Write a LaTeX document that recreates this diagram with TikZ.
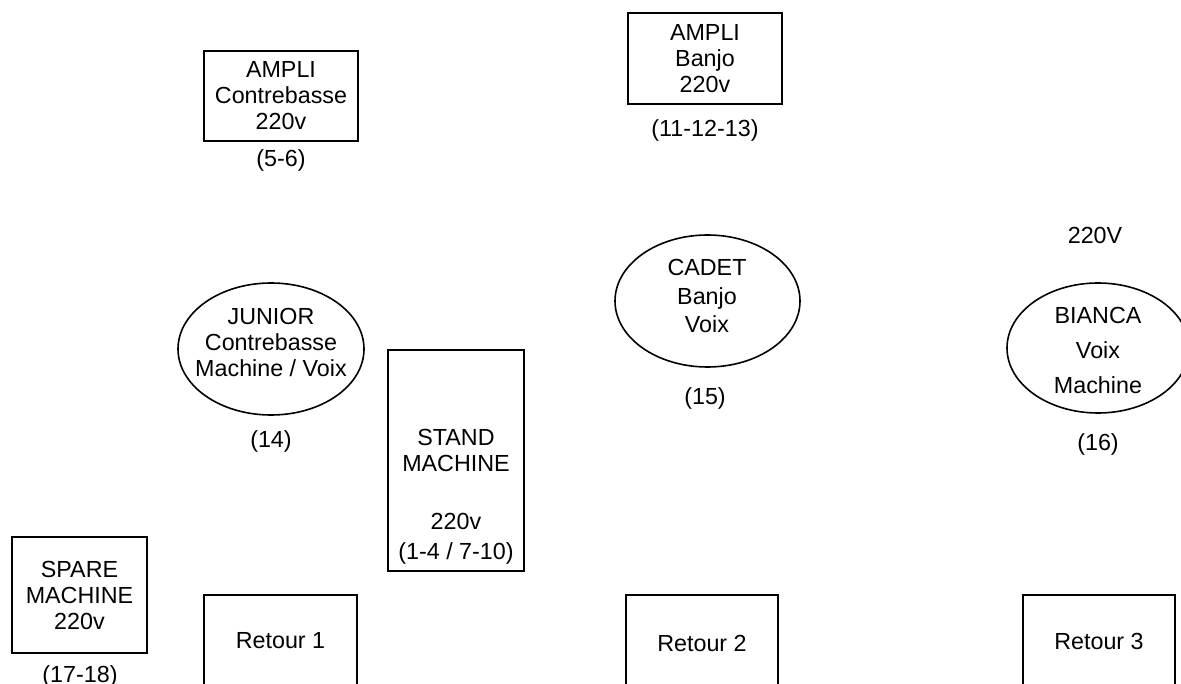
\documentclass[tikz,border=0pt]{standalone}
\usepackage{fontspec}
\setmainfont{Liberation Sans}
\usetikzlibrary{shapes.geometric}
\begin{document}
\begin{tikzpicture}[x=1pt,y=1pt,
  every node/.style={font=\fontsize{23.3}{26}\selectfont, inner sep=0pt, align=center},
  boxnode/.style={draw, line width=2pt, rectangle},
  ellnode/.style={draw, line width=1.6pt, ellipse},
  lbl/.style={}]
\useasboundingbox (0,0) rectangle (1181,-684);
\clip (0,0) rectangle (1181,-684);
% amplis
\node[boxnode, minimum width=154, minimum height=90] (ampcb) at (281,-96) {AMPLI\\Contrebasse\\220v};
\node[lbl] (ampcbn) at (281,-160) {(5-6)};
\node[boxnode, minimum width=154, minimum height=91] (ampbj) at (705,-58.5) {AMPLI\\Banjo\\220v};
\node[lbl] (ampbjn) at (705,-130) {(11-12-13)};
% musicians
\node[ellnode, minimum width=186, minimum height=132] (junior) at (271,-349) {};
\node[lbl] (juniort) at (271,-342) {JUNIOR\\Contrebasse\\Machine / Voix};
\node[lbl] (juniorn) at (271,-441) {(14)};
\node[ellnode, minimum width=185, minimum height=132] (cadet) at (707.5,-301) {};
\node[lbl] (cadett) at (707,-296) {CADET\\[3pt]Banjo\\[2pt]Voix};
\node[lbl] (cadetn) at (705,-398) {(15)};
\node[ellnode, minimum width=182, minimum height=130] (bianca) at (1098,-348) {};
\node[lbl] (biancat) at (1098,-350) {BIANCA\\[9pt]Voix\\[9pt]Machine};
\node[lbl] (biancan) at (1098,-444) {(16)};
\node[lbl] (volt) at (1095,-235) {220V};
% stand
\node[boxnode, minimum width=136, minimum height=221] (stand) at (456,-460.5) {};
\node[lbl] (standt) at (456,-450) {STAND\\MACHINE};
\node[lbl] (standv) at (456,-521) {220v};
\node[lbl] (standn) at (456,-553) {(1-4 / 7-10)};
% spare
\node[boxnode, minimum width=135, minimum height=116] (spare) at (79.5,-595) {SPARE\\MACHINE\\220v};
\node[lbl] (sparen) at (80,-676) {(17-18)};
% retours
\node[boxnode, minimum width=153, minimum height=92, anchor=north] (ret1) at (280.5,-594) {Retour 1};
\node[boxnode, minimum width=152, minimum height=96, anchor=north] (ret2) at (702,-594) {Retour 2};
\node[boxnode, minimum width=152, minimum height=92, anchor=north] (ret3) at (1099,-594) {Retour 3};
\end{tikzpicture}
\end{document}
